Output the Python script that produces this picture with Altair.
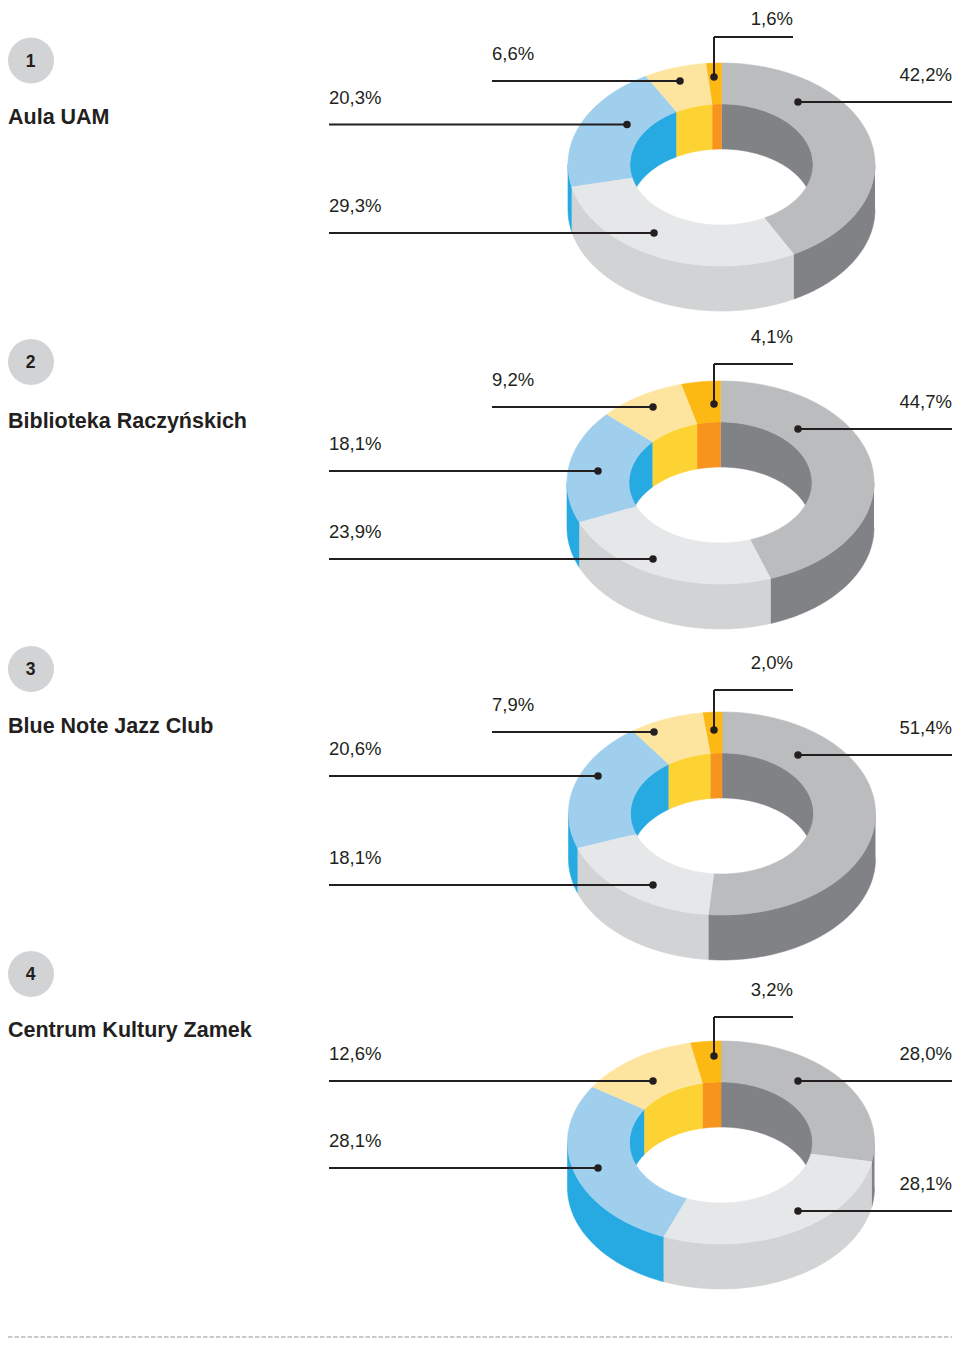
import math
import numpy as np
import pandas as pd
import altair as alt

# --- values -----------------------------------------------------------------
VENUES = ["Aula UAM", "Biblioteka Raczyńskich", "Blue Note Jazz Club", "Centrum Kultury Zamek"]
NUMBERS = ["1", "2", "3", "4"]
SHARES = [
    [42.2, 29.3, 20.3, 6.6, 1.6],
    [44.7, 23.9, 18.1, 9.2, 4.1],
    [51.4, 18.1, 20.6, 7.9, 2.0],
    [28.0, 28.1, 28.1, 12.6, 3.2],
]

# --- styles -----------------------------------------------------------------
TOP_COLORS = ["#bbbcbe", "#e6e7e8", "#a0cfee", "#fde5a0", "#fdb913"]
WALL_COLORS = ["#808285", "#d1d3d4", "#27aae1", "#fdd333", "#f7941e"]
INK = "#231f20"
FONT = "Liberation Sans"

# --- layout (page pixels) ---------------------------------------------------
PLOT_W, PLOT_H = 944, 1330
CENTER_X = [721.5, 720.5, 722.0, 721.0]
CENTER_Y = [164.5, 482.5, 813.5, 1142.5]
OUTER_A, OUTER_B = 153.5, 101.5
INNER_A, INNER_B = 91.5, 60.5
DEPTH = 45.0
BADGE_Y = [60.5, 362.0, 669.0, 974.0]
TITLE_Y = [123.5, 427.5, 732.5, 1036.5]
LEADER_FAR_X = [
    [952, 329, 329, 492, 793],
    [952, 329, 329, 492, 793],
    [952, 329, 329, 492, 793],
    [952, 952, 329, 329, 793],
]
LEADER_DOT_X = [
    [798, 654, 627, 680, 714],
    [798, 653, 598, 653, 714],
    [798, 653, 598, 654, 714],
    [798, 798, 598, 653, 714],
]
LEADER_Y = [
    [102, 233, 124.5, 81, 37],
    [429, 559, 471, 407, 364],
    [755, 885, 776, 732, 690],
    [1081, 1211, 1168, 1081, 1017],
]
ELBOW_DOT_Y = [77, 404, 730, 1056]


def angles(a0, a1):
    n = max(2, int(math.ceil((a1 - a0) / 1.5)) + 1)
    return np.radians(np.linspace(a0, a1, n))


def ring(cx, cy, a, b, a0, a1, drop=0.0):
    t = angles(a0, a1)
    return list(zip(cx + a * np.sin(t), cy - b * np.cos(t) + drop))


def add(rows, key, color, pts):
    for i, (x, y) in enumerate(pts):
        rows.append({"poly": key, "i": i, "x": float(x), "y": float(y), "color": color})


outer_rows, inner_rows, top_rows = [], [], []
for c, shares in enumerate(SHARES):
    cx, cy = CENTER_X[c], CENTER_Y[c]
    start = 0.0
    for s, share in enumerate(shares):
        end = start + share * 3.6
        key = f"{c}-{s}"
        # outer wall: front half only
        a0, a1 = max(start, 90), min(end, 270)
        if a1 > a0:
            add(outer_rows, key, WALL_COLORS[s],
                ring(cx, cy, OUTER_A, OUTER_B, a0, a1)
                + ring(cx, cy, OUTER_A, OUTER_B, a0, a1, DEPTH)[::-1])
        # inner wall: back half of the hole only
        for part, (lo, hi) in enumerate([(0, 90), (270, 360)]):
            a0, a1 = max(start, lo), min(end, hi)
            if a1 > a0:
                add(inner_rows, f"{key}-{part}", WALL_COLORS[s],
                    ring(cx, cy, INNER_A, INNER_B, a0, a1)
                    + ring(cx, cy, INNER_A, INNER_B, a0, a1, DEPTH)[::-1])
        # top face
        add(top_rows, key, TOP_COLORS[s],
            ring(cx, cy, OUTER_A, OUTER_B, start, end)
            + ring(cx, cy, INNER_A, INNER_B, start, end)[::-1])
        start = end

segments, dots, labels = [], [], []
for c, shares in enumerate(SHARES):
    for s, share in enumerate(shares):
        far, dx, ly = LEADER_FAR_X[c][s], LEADER_DOT_X[c][s], LEADER_Y[c][s]
        dy = ELBOW_DOT_Y[c] if s == 4 else ly
        segments.append({"x": far, "x2": dx, "y": ly, "y2": ly})
        if dy != ly:
            segments.append({"x": dx, "x2": dx, "y": ly, "y2": dy})
        dots.append({"x": dx, "y": dy})
        labels.append({
            "x": far, "y": max(ly - 21, 25),
            "text": f"{share:.1f}".replace(".", ",") + "%",
            "side": "right" if far > dx else "left",
        })

badges = pd.DataFrame({"x": [31.0] * 4, "y": BADGE_Y, "text": NUMBERS})
badge_text_y = [v + 1 for v in BADGE_Y]
badge_labels = pd.DataFrame({"x": [30.5] * 4, "y": badge_text_y, "text": NUMBERS})
titles = pd.DataFrame({"x": [8.0] * 4, "y": TITLE_Y, "text": VENUES})
dash = pd.DataFrame({"x": [8], "x2": [8 + PLOT_W], "y": [8 + PLOT_H - 1]})

X = alt.X("x:Q", axis=None, scale=alt.Scale(domain=[8, 8 + PLOT_W], nice=False, zero=False))
Y = alt.Y("y:Q", axis=None, scale=alt.Scale(domain=[8 + PLOT_H, 8], nice=False, zero=False))


def polygons(rows):
    return alt.Chart(pd.DataFrame(rows)).mark_line(strokeWidth=0.6, interpolate="linear").encode(
        x=X, y=Y,
        detail="poly:N",
        order="i:Q",
        fill=alt.Fill("color:N", scale=None),
        stroke=alt.Stroke("color:N", scale=None),
    )


seg_layer = alt.Chart(pd.DataFrame(segments)).mark_rule(color=INK, strokeWidth=2).encode(
    x=X, x2="x2:Q", y=Y, y2="y2:Q")
dot_layer = alt.Chart(pd.DataFrame(dots)).mark_point(filled=True, color=INK, size=56, opacity=1).encode(x=X, y=Y)
lab = pd.DataFrame(labels)
lab_r = alt.Chart(lab[lab.side == "right"]).mark_text(
    align="right", baseline="alphabetic", font=FONT, fontSize=18.5, color=INK).encode(x=X, y=Y, text="text:N")
lab_l = alt.Chart(lab[lab.side == "left"]).mark_text(
    align="left", baseline="alphabetic", font=FONT, fontSize=18.5, color=INK).encode(x=X, y=Y, text="text:N")
badge_c = alt.Chart(badges).mark_point(filled=True, color="#d1d3d4", size=2116, opacity=1).encode(x=X, y=Y)
badge_t = alt.Chart(badge_labels).mark_text(
    align="center", baseline="middle", font=FONT, fontSize=17.5, fontWeight="bold", color=INK
).encode(x=X, y=Y, text="text:N")
title_t = alt.Chart(titles).mark_text(
    align="left", baseline="alphabetic", font=FONT, fontSize=21.5, fontWeight="bold", color=INK
).encode(x=X, y=Y, text="text:N")
dash_l = alt.Chart(dash).mark_rule(color="#939598", strokeWidth=1, strokeDash=[4.5, 2]).encode(
    x=X, x2="x2:Q", y=Y)

chart = alt.layer(
    polygons(outer_rows), polygons(inner_rows), polygons(top_rows),
    seg_layer, dot_layer, lab_r, lab_l, badge_c, badge_t, title_t, dash_l,
).properties(
    width=PLOT_W, height=PLOT_H, padding=0, autosize=alt.AutoSizeParams(type="none"),
    background="white",
).configure_view(stroke=None)

chart.save("out.html", embed_options={"renderer": "svg", "actions": False})
